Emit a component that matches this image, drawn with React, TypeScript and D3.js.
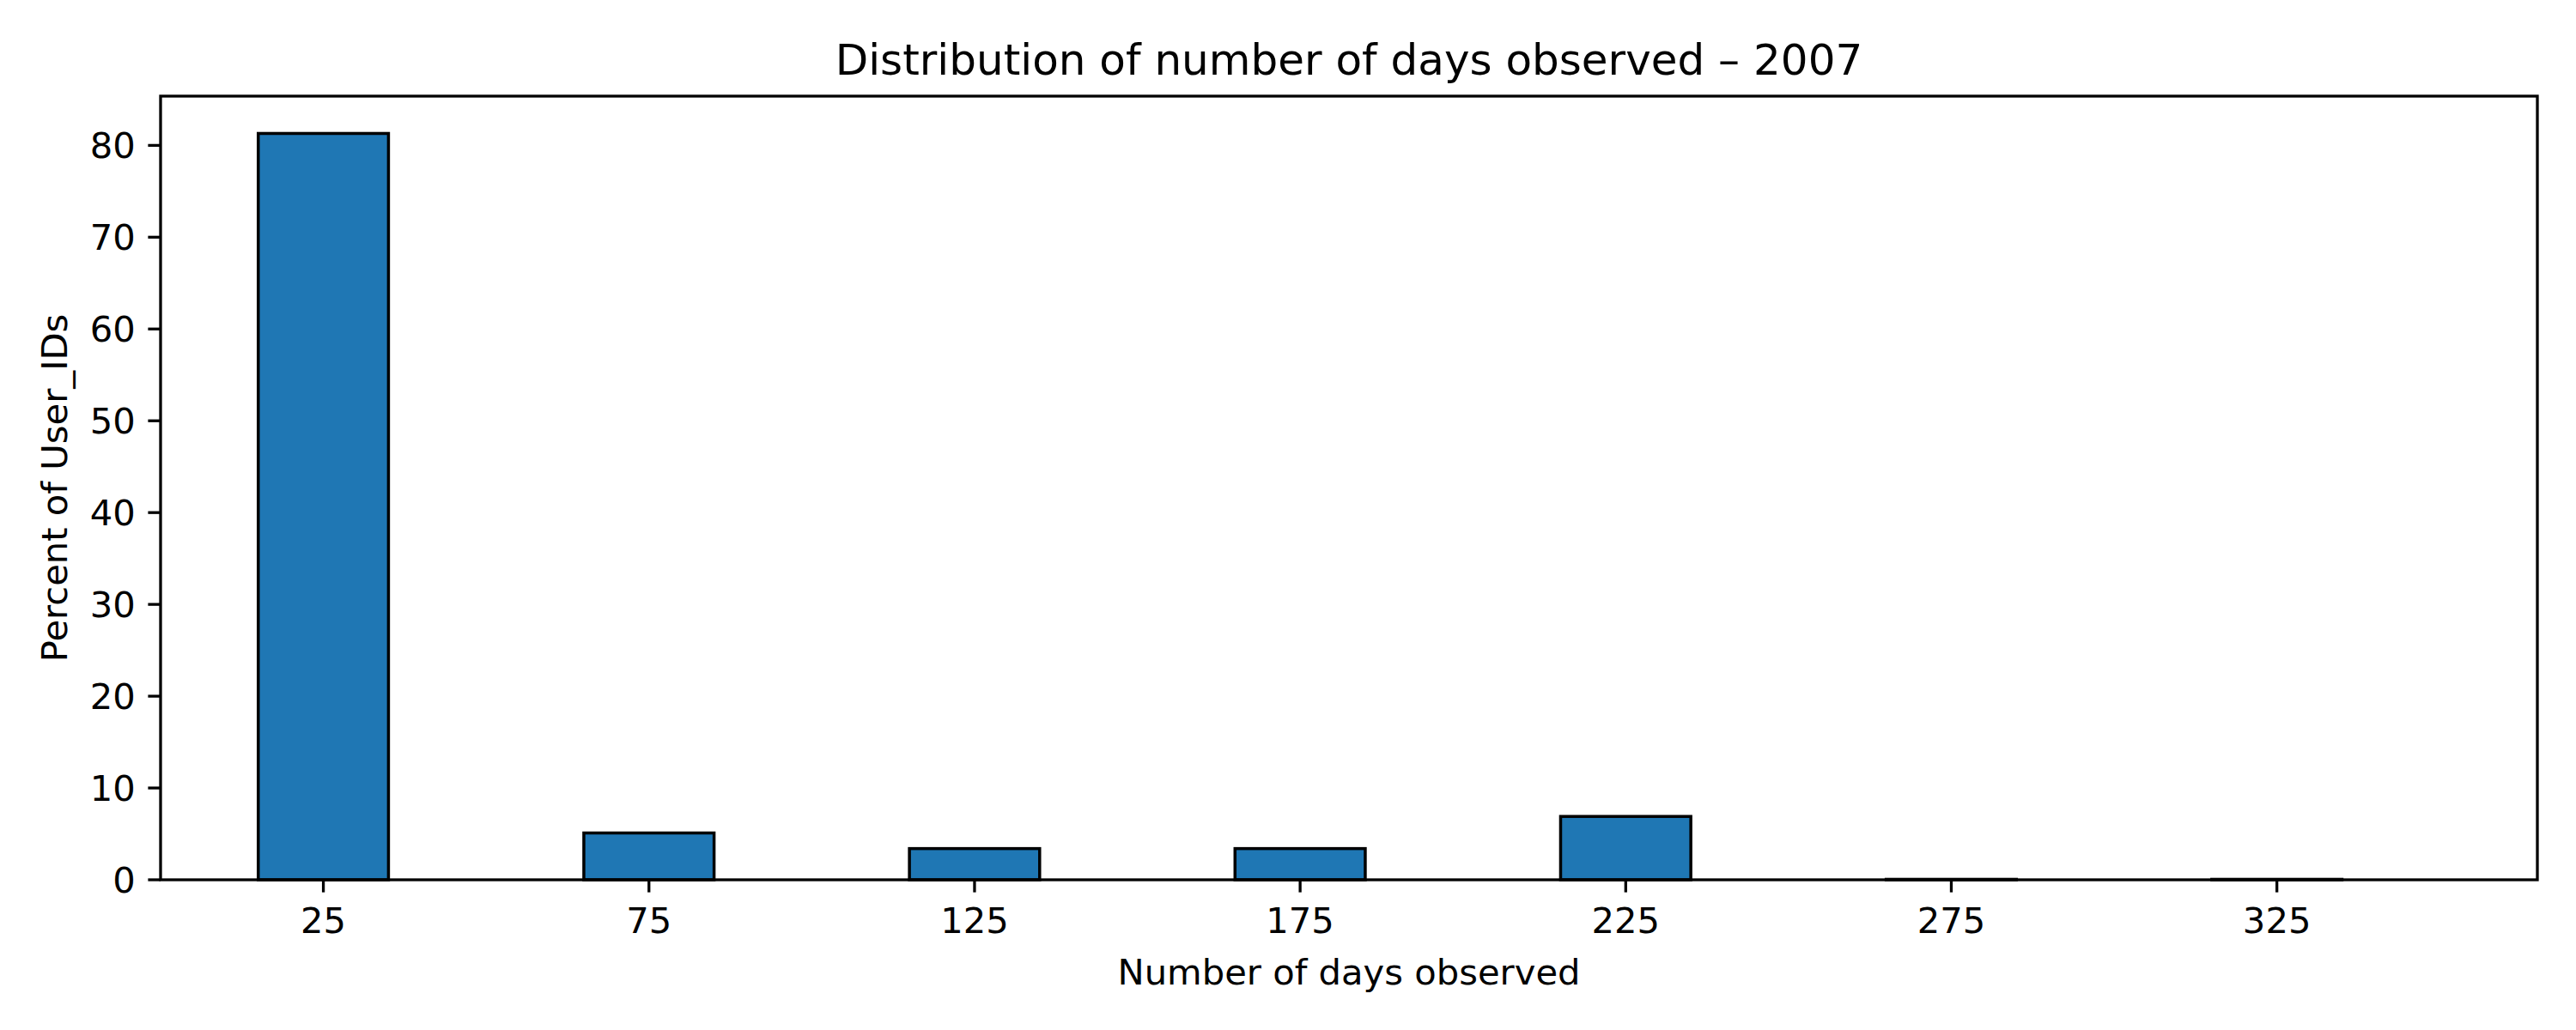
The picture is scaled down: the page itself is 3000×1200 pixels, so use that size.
import React from "react";
import * as d3 from "d3";

const binCenters = [25, 75, 125, 175, 225, 275, 325];
const percentValues = [81.3, 5.1, 3.4, 3.4, 6.9, 0.05, 0.05];
const yTicks = [0, 10, 20, 30, 40, 50, 60, 70, 80];
const xTicks = [25, 75, 125, 175, 225, 275, 325];
const binWidth = 20;
const titleText = "Distribution of number of days observed – 2007";
const xLabelText = "Number of days observed";
const yLabelText = "Percent of User_IDs";

const W = 3000;
const H = 1200;
const L = 187;
const R = 2955;
const T = 112;
const B = 1025;
const FONT = "DejaVu Sans, sans-serif";

export default function App() {
  const x = d3.scaleLinear().domain([0, 365]).range([L, R]);
  const yMax = d3.max(percentValues)! * 1.05;
  const y = d3.scaleLinear().domain([0, yMax]).range([B, T]);
  const tickLen = 14.6;
  const pad = 14.6;
  const fs = 41.7;

  return (
    <div style={{ position: "fixed", left: 0, top: 0 }}>
      <svg width={W} height={H} style={{ display: "block", background: "#fff" }}>
        <rect x={0} y={0} width={W} height={H} fill="#fff" />
        {binCenters.map((c, i) => {
          const x0 = x(c - binWidth / 2);
          const x1 = x(c + binWidth / 2);
          const yt = y(percentValues[i]);
          return (
            <rect
              key={i}
              x={x0}
              y={yt}
              width={x1 - x0}
              height={B - yt}
              fill="#1f77b4"
              stroke="#000"
              strokeWidth={3.5}
            />
          );
        })}
        {/* spines */}
        <rect x={L} y={T} width={R - L} height={B - T} fill="none" stroke="#000" strokeWidth={3.3} />
        {/* y ticks */}
        {yTicks.map((t) => (
          <g key={"y" + t}>
            <line x1={L - tickLen} x2={L} y1={y(t)} y2={y(t)} stroke="#000" strokeWidth={3.3} />
            <text
              x={L - tickLen - pad}
              y={y(t)}
              textAnchor="end"
              dominantBaseline="central"
              fontFamily={FONT}
              fontSize={fs}
              fill="#000"
            >
              {t}
            </text>
          </g>
        ))}
        {/* x ticks */}
        {xTicks.map((t) => (
          <g key={"x" + t}>
            <line x1={x(t)} x2={x(t)} y1={B} y2={B + tickLen} stroke="#000" strokeWidth={3.3} />
            <text
              x={x(t)}
              y={1087}
              textAnchor="middle"
              fontFamily={FONT}
              fontSize={fs}
              fill="#000"
            >
              {t}
            </text>
          </g>
        ))}
        <text x={(L + R) / 2} y={87} textAnchor="middle" fontFamily={FONT} fontSize={50} fill="#000">
          {titleText}
        </text>
        <text x={(L + R) / 2} y={1147} textAnchor="middle" fontFamily={FONT} fontSize={fs} fill="#000">
          {xLabelText}
        </text>
        <text
          transform={`translate(78, ${(T + B) / 2}) rotate(-90)`}
          textAnchor="middle"
          fontFamily={FONT}
          fontSize={fs}
          fill="#000"
        >
          {yLabelText}
        </text>
      </svg>
    </div>
  );
}
